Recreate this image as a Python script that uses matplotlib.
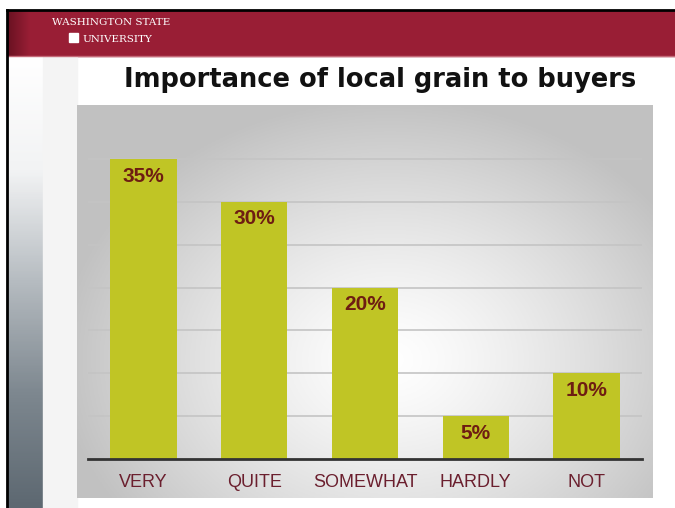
import numpy as np
import matplotlib
matplotlib.use("Agg")
import matplotlib.pyplot as plt
from matplotlib.patches import Rectangle
from matplotlib.colors import LinearSegmentedColormap

# data
categories = ["VERY", "QUITE", "SOMEWHAT", "HARDLY", "NOT"]
shares = [35, 30, 20, 5, 10]
value_labels = ["35%", "30%", "20%", "5%", "10%"]

W, H = 675, 508
fig = plt.figure(figsize=(W / 100, H / 100), dpi=100)
fig.patch.set_facecolor("white")

# background layer in pixel coords
bg = fig.add_axes([0, 0, 1, 1])
bg.set_xlim(0, W)
bg.set_ylim(H, 0)
bg.axis("off")

# black frame on top / left
bg.plot([7, W], [10, 10], color="black", lw=2, zorder=5)
bg.plot([7, 7], [10, H], color="black", lw=2, zorder=5)

# crimson header
bg.add_patch(Rectangle((8, 11), W - 8, 45, color="#991e35", zorder=1))
hdr = np.linspace(0, 1, 60).reshape(1, -1)
bg.imshow(hdr, extent=(8, 30, 56, 11),
          cmap=LinearSegmentedColormap.from_list("h", ["#6a1222", "#991e35"]),
          aspect="auto", zorder=2)
bg.plot([8, W], [56, 56], color="#c46a78", lw=1, zorder=3)

bg.text(52, 25, "WASHINGTON STATE", color="white", family="DejaVu Serif",
        fontsize=7.5, va="baseline", zorder=4)
bg.text(82, 42, "UNIVERSITY", color="white", family="DejaVu Serif",
        fontsize=7.5, va="baseline", zorder=4)
bg.add_patch(Rectangle((69, 33), 9, 9, color="white", zorder=4))

# left gradient strip
strip = np.linspace(0, 1, 200).reshape(-1, 1)
bg.imshow(strip, extent=(8, 43, H, 57),
          cmap=LinearSegmentedColormap.from_list(
              "s", ["#ffffff", "#f2f3f4", "#b5bbc0", "#7d878f", "#5d6871"]),
          aspect="auto", zorder=1)
bg.add_patch(Rectangle((43, 57), 34, H - 57, color="#f4f4f4", zorder=1))

# title
bg.text(380, 80, "Importance of local grain to buyers", ha="center", va="center",
        fontsize=18.5, fontweight="bold", family="DejaVu Sans", color="#111111", zorder=4)

# chart panel with soft gradient
px0, px1, py0, py1 = 77, 653, 105, 498
gx, gy = np.meshgrid(np.linspace(px0, px1, 300), np.linspace(py0, py1, 200))
d = np.sqrt(((gx - 390) / 330) ** 2 + ((gy - 360) / 260) ** 2)
shade = 1 - 0.24 * np.clip(d, 0, 1) ** 1.3
img = np.dstack([shade, shade, shade])
bg.imshow(img, extent=(px0, px1, py1, py0), aspect="auto", zorder=1)

# chart axes: x 88..642, y 0 at 459, 40 at 116
ax = fig.add_axes([88 / W, (H - 459) / H, 554 / W, 343 / H])
ax.patch.set_alpha(0)
x = np.arange(len(categories))
ax.bar(x, shares, width=0.6, color="#c0c525", zorder=3)
ax.set_xlim(-0.5, len(categories) - 0.5)
ax.set_ylim(0, 40)
for gv in range(5, 40, 5):
    ax.axhline(gv, color="#c4c4c4", lw=1.2, zorder=1)
for xi, v, lab in zip(x, shares, value_labels):
    ax.text(xi, v - 2.0, lab, ha="center", va="center", fontsize=15,
            fontweight="bold", family="Liberation Sans", color="#6e1d12", zorder=4)
ax.set_xticks(x)
ax.set_xticklabels(categories, fontsize=13, family="Liberation Sans", color="#6b1f2e")
ax.tick_params(axis="x", length=0, pad=11)
ax.set_yticks([])
for s in ["top", "right", "left"]:
    ax.spines[s].set_visible(False)
ax.spines["bottom"].set_color("#333333")
ax.spines["bottom"].set_linewidth(2)
ax.spines["bottom"].set_zorder(5)

fig.savefig("out.png", dpi=100)
